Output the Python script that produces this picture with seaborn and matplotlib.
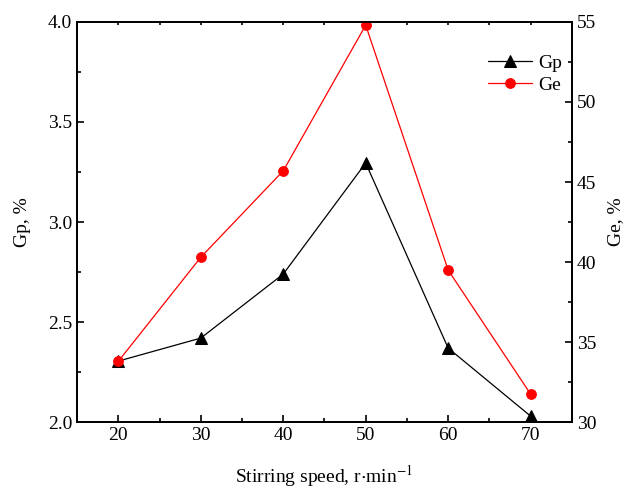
import numpy as np
import pandas as pd
import matplotlib
matplotlib.use('Agg')
import matplotlib.pyplot as plt
import seaborn as sns

speed = [20, 30, 40, 50, 60, 70]
gp = [2.305, 2.42, 2.74, 3.295, 2.37, 2.03]
ge = [33.8, 40.3, 45.7, 54.8, 39.5, 31.75]

sns.set_style('ticks')
plt.rcParams['font.family'] = ['Liberation Serif', 'DejaVu Serif']
plt.rcParams['mathtext.fontset'] = 'stix'
plt.rcParams['text.color'] = 'black'
plt.rcParams['axes.labelcolor'] = 'black'
plt.rcParams['xtick.color'] = 'black'
plt.rcParams['ytick.color'] = 'black'

df = pd.DataFrame({'speed': speed, 'Gp': gp, 'Ge': ge})

fig, ax = plt.subplots(figsize=(6.27, 4.88), dpi=100)
ax2 = ax.twinx()

sns.lineplot(data=df, x='speed', y='Gp', ax=ax, color='black', marker='^',
             markersize=8, markeredgecolor='black', linewidth=0.9, label='Gp', legend=False)
sns.lineplot(data=df, x='speed', y='Ge', ax=ax2, color='red', marker='o',
             markersize=7, markeredgecolor='red', linewidth=0.9, label='Ge', legend=False)

ax.set_xlim(15, 75)
ax.set_ylim(2.0, 4.0)
ax2.set_ylim(30, 55)
ax.set_xticks([20, 30, 40, 50, 60, 70])
ax.set_xticks([25, 35, 45, 55, 65], minor=True)
ax.set_yticks([2.0, 2.5, 3.0, 3.5, 4.0])
ax.set_yticks([2.25, 2.75, 3.25, 3.75], minor=True)
ax2.set_yticks([30, 35, 40, 45, 50, 55])
ax2.set_yticks([32.5, 37.5, 42.5, 47.5, 52.5], minor=True)
ax.yaxis.set_major_formatter(matplotlib.ticker.FormatStrFormatter('%.1f'))

for a in (ax, ax2):
    a.tick_params(which='major', length=5, width=1.2, labelsize=14, direction='in',
                  colors='black')
    a.tick_params(which='minor', length=3, width=1.2, direction='in', colors='black')
    for s in a.spines.values():
        s.set_linewidth(1.3)
        s.set_color('black')
        s.set_visible(True)

# tiny ticks along the top frame
ax.tick_params(axis='x', which='both', top=True, labeltop=False)
for t in ax.xaxis.get_major_ticks() + ax.xaxis.get_minor_ticks():
    t.tick2line.set_markersize(2)

ax.set_xlabel(r'Stirring speed, r$\cdot$min$^{-1}$', fontsize=14, labelpad=14)
ax.set_ylabel('Gp, %', fontsize=14, labelpad=12)
ax2.set_ylabel('Ge, %', fontsize=14, labelpad=8)

h1, l1 = ax.get_legend_handles_labels()
h2, l2 = ax2.get_legend_handles_labels()
ax2.legend(h1 + h2, l1 + l2, loc='upper right', frameon=False, fontsize=14,
           handlelength=2.3, bbox_to_anchor=(1.012, 0.958), borderaxespad=0.4,
           handletextpad=0.3, labelspacing=0.22)

fig.subplots_adjust(left=0.123, right=0.912, top=0.955, bottom=0.135)
fig.savefig('out.png', dpi=100)
